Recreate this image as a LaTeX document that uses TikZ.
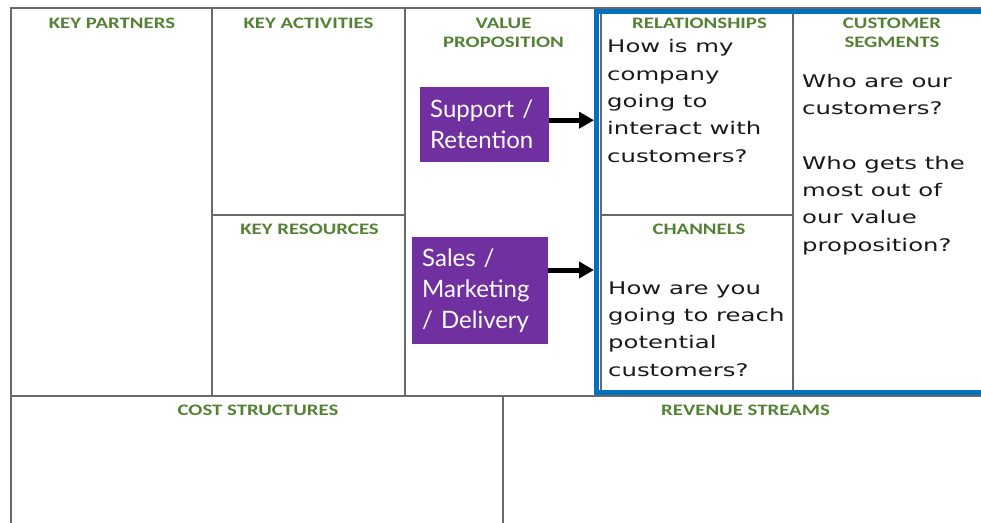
\documentclass[tikz,border=0pt]{standalone}
\usepackage{fontspec}
\setmainfont{DejaVu Sans}
\newfontfamily\askfont{DejaVu Sans}[FakeStretch=1.4]
\newfontfamily\headfont{Carlito}[FakeStretch=1.3]
\newfontfamily\tagfont{Lato}
\usetikzlibrary{positioning,arrows.meta}
\definecolor{bmcgreen}{RGB}{84,130,53}
\definecolor{bmcblue}{RGB}{0,112,192}
\definecolor{bmcpurple}{RGB}{112,48,160}
\definecolor{bmcgray}{RGB}{105,105,105}

\begin{document}
\begin{tikzpicture}[x=1pt,y=-1pt,
  grid/.style={draw=bmcgray, line width=1.5pt},
  head/.style={font=\headfont\bfseries\fontsize{16}{19.5}\selectfont, text=bmcgreen, align=center, inner sep=0pt},
  ask/.style={font=\askfont\fontsize{17.4}{27.3}\selectfont, text=black!90, align=left, anchor=base west, inner sep=0pt},
  tag/.style={fill=bmcpurple, text=white, font=\tagfont\fontsize{24}{31}\selectfont, align=left, anchor=north west, inner xsep=10pt, inner ysep=0pt},
  pointer/.style={-{Triangle[length=15pt,width=16pt]}, line width=5pt}]
  \useasboundingbox (0,0) rectangle (981,522);
  \clip (0,0) rectangle (981,522);

  \draw[grid] (11,530) -- (11,8) -- (990,8);
  \draw[grid] (212,8) -- (212,396);
  \draw[grid] (405,8) -- (405,396);
  \draw[grid] (601,8) -- (601,396);
  \draw[grid] (793,8) -- (793,396);
  \draw[grid] (212,215) -- (405,215);
  \draw[grid] (601,215) -- (793,215);
  \draw[grid] (11,396) -- (990,396);
  \draw[grid] (503,396) -- (503,530);

  \node[head] (kp) at (112,23) {KEY PARTNERS};
  \node[head] (ka) at (308.5,23) {KEY ACTIVITIES};
  \node[head] (kr) at (309.5,229.5) {KEY RESOURCES};
  \node[head] (vp) at (503.5,33) {VALUE\\PROPOSITION};
  \node[head] (rel) at (699.5,23) {RELATIONSHIPS};
  \node[head] (ch) at (699,229.5) {CHANNELS};
  \node[head] (cs) at (892,33) {CUSTOMER\\SEGMENTS};
  \node[head] (cost) at (258,410.5) {COST STRUCTURES};
  \node[head] (rev) at (745.5,410.5) {REVENUE STREAMS};

  \node[ask] (relq) at (607,162) {How is my\\company\\going to\\interact with\\customers?};
  \node[ask] (chq) at (608,376) {How are you\\going to reach\\potential\\customers?};
  \node[ask] (csq) at (802,251) {Who are our\\customers?\\[27.3pt]Who gets the\\most out of\\our value\\proposition?};

  \node[draw=bmcblue, line width=5pt, anchor=north west, inner sep=0pt,
        minimum width=404pt, minimum height=380.5pt] (crm) at (594,9) {};

  \node[tag, text width=109pt, minimum height=75pt] (sup) at (420,87) {Support /\\Retention};
  \node[tag, text width=116pt, minimum height=107pt] (sal) at (412,237) {Sales /\\Marketing\\/ Delivery};

  \draw[pointer] ([yshift=4.5pt]sup.east) -- ([yshift=4.5pt]sup.east -| crm.west);
  \draw[pointer] ([yshift=-33pt]sal.north east) -- ([yshift=-33pt]sal.north east -| crm.west);
\end{tikzpicture}
\end{document}
